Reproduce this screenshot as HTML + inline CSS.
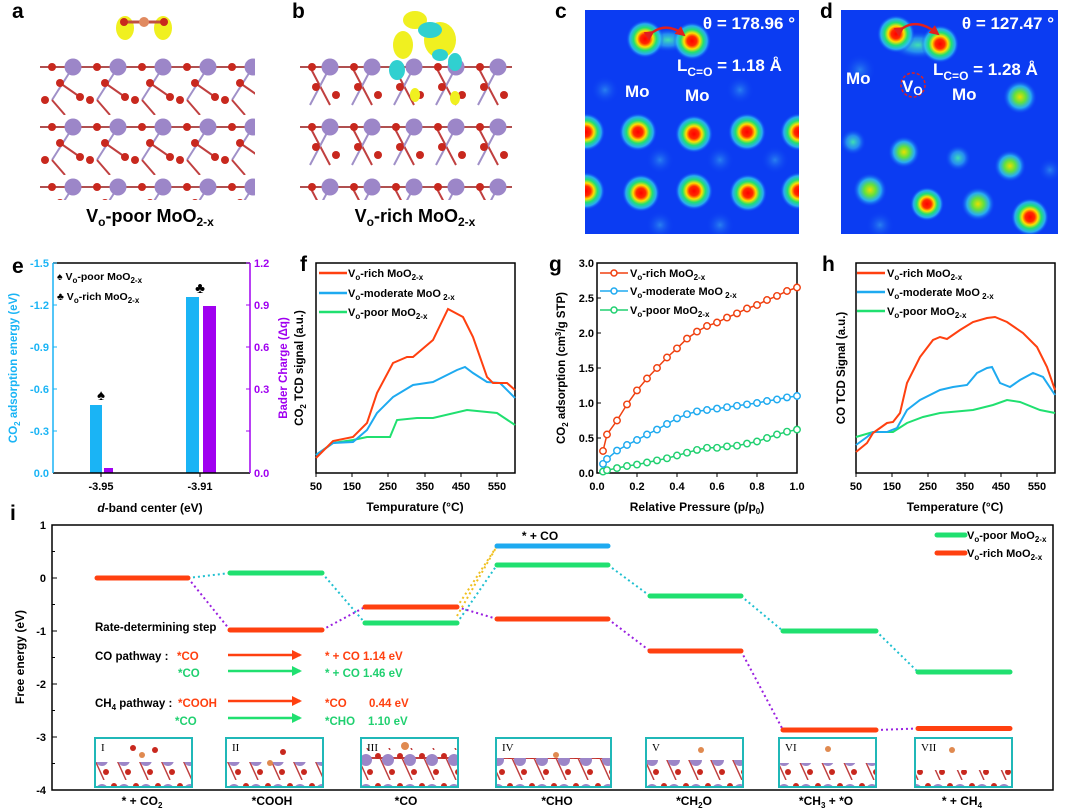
<!DOCTYPE html>
<html><head><meta charset="utf-8"><style>
html,body{margin:0;padding:0;background:#fff}
svg{display:block;font-family:"Liberation Sans",Arial,sans-serif;font-weight:bold}
</style></head><body>
<svg width="1080" height="810" viewBox="0 0 1080 810" xmlns="http://www.w3.org/2000/svg">
<defs>
<radialGradient id="hot"><stop offset="0" stop-color="#ff0000"/><stop offset="0.25" stop-color="#ff2a00"/><stop offset="0.42" stop-color="#ffe000"/><stop offset="0.6" stop-color="#20e070"/><stop offset="0.8" stop-color="#30c8f0" stop-opacity="0.8"/><stop offset="1" stop-color="#0b3cf2" stop-opacity="0"/></radialGradient>
<radialGradient id="warm"><stop offset="0" stop-color="#e8e000"/><stop offset="0.35" stop-color="#60e040"/><stop offset="0.65" stop-color="#30c8f0" stop-opacity="0.8"/><stop offset="1" stop-color="#0b3cf2" stop-opacity="0"/></radialGradient>
<radialGradient id="cool"><stop offset="0" stop-color="#40e0b0"/><stop offset="0.5" stop-color="#30b0f0" stop-opacity="0.7"/><stop offset="1" stop-color="#0b3cf2" stop-opacity="0"/></radialGradient>
<radialGradient id="faint"><stop offset="0" stop-color="#3090f0" stop-opacity="0.8"/><stop offset="1" stop-color="#0b3cf2" stop-opacity="0"/></radialGradient>
<pattern id="lat" x="40" y="55" width="45" height="60" patternUnits="userSpaceOnUse">
<line x1="0" y1="12" x2="45" y2="12" stroke="#b05050" stroke-width="2"/>
<line x1="33" y1="12" x2="12" y2="45" stroke="#a090c8" stroke-width="2"/>
<line x1="12" y1="45" x2="25" y2="60" stroke="#c04040" stroke-width="2"/>
<line x1="20" y1="28" x2="40" y2="42" stroke="#c04040" stroke-width="2"/>
<circle cx="33" cy="12" r="8.5" fill="#9c86c8"/>
<circle cx="12" cy="12" r="4" fill="#c8281e"/>
<circle cx="20" cy="28" r="4" fill="#c8281e"/>
<circle cx="40" cy="42" r="4" fill="#c8281e"/>
<circle cx="5" cy="45" r="4" fill="#c8281e"/>
</pattern>
<pattern id="lat2" x="300" y="55" width="42" height="60" patternUnits="userSpaceOnUse">
<line x1="0" y1="12" x2="42" y2="12" stroke="#b05050" stroke-width="2"/>
<line x1="10" y1="12" x2="30" y2="50" stroke="#c04040" stroke-width="2"/>
<line x1="30" y1="12" x2="10" y2="50" stroke="#a090c8" stroke-width="2"/>
<circle cx="30" cy="12" r="8.5" fill="#9c86c8"/>
<circle cx="12" cy="12" r="4" fill="#c8281e"/>
<circle cx="16" cy="32" r="4" fill="#c8281e"/>
<circle cx="36" cy="40" r="4" fill="#c8281e"/>
</pattern>
<pattern id="ins" x="0" y="0" width="22" height="30" patternUnits="userSpaceOnUse">
<line x1="0" y1="8" x2="22" y2="8" stroke="#c04040" stroke-width="2"/>
<line x1="6" y1="8" x2="16" y2="30" stroke="#c04040" stroke-width="1.5"/>
<circle cx="14" cy="10" r="6" fill="#9c86c8"/>
<circle cx="4" cy="6" r="3" fill="#c8281e"/>
<circle cx="18" cy="22" r="3" fill="#c8281e"/>
</pattern>
<marker id="mr" viewBox="0 0 10 10" refX="5" refY="5" markerWidth="6" markerHeight="6"><circle cx="5" cy="5" r="3.6" fill="#fff" stroke="#f04010" stroke-width="1.6"/></marker>
<marker id="mb" viewBox="0 0 10 10" refX="5" refY="5" markerWidth="6" markerHeight="6"><circle cx="5" cy="5" r="3.6" fill="#fff" stroke="#1eaaf0" stroke-width="1.6"/></marker>
<marker id="mg" viewBox="0 0 10 10" refX="5" refY="5" markerWidth="6" markerHeight="6"><circle cx="5" cy="5" r="3.6" fill="#fff" stroke="#20d070" stroke-width="1.6"/></marker>
<marker id="ar" viewBox="0 0 10 10" refX="8" refY="5" markerWidth="4" markerHeight="4" orient="auto"><path d="M0,0L10,5L0,10z" fill="#ff4010"/></marker>
<marker id="ag" viewBox="0 0 10 10" refX="8" refY="5" markerWidth="4" markerHeight="4" orient="auto"><path d="M0,0L10,5L0,10z" fill="#20e070"/></marker>
<marker id="ah" viewBox="0 0 10 10" refX="8" refY="5" markerWidth="4" markerHeight="4" orient="auto"><path d="M0,0L10,5L0,10z" fill="#e02020"/></marker>
</defs>

<g font-size="21" fill="#000">
<text x="12" y="18">a</text><text x="292" y="18">b</text><text x="555" y="18">c</text><text x="820" y="18">d</text>
<text x="12" y="273">e</text><text x="300" y="271">f</text><text x="549" y="271">g</text><text x="822" y="271">h</text>
<text x="10" y="520">i</text>
</g>

<!-- a -->
<rect x="40" y="55" width="215" height="145" fill="url(#lat)"/>
<ellipse cx="125" cy="28" rx="9" ry="12" fill="#f0f020"/><ellipse cx="163" cy="28" rx="9" ry="12" fill="#f0f020"/>
<line x1="124" y1="22" x2="164" y2="22" stroke="#c05040" stroke-width="3"/>
<circle cx="144" cy="22" r="5" fill="#e08a60"/><circle cx="124" cy="22" r="4" fill="#c8281e"/><circle cx="164" cy="22" r="4" fill="#c8281e"/>
<text x="150" y="222" font-size="18" text-anchor="middle">V<tspan font-size="12" dy="4">o</tspan><tspan dy="-4">-poor MoO</tspan><tspan font-size="12" dy="4">2-x</tspan></text>
<!-- b -->
<rect x="300" y="55" width="212" height="145" fill="url(#lat2)"/>
<ellipse cx="415" cy="20" rx="12" ry="9" fill="#f0f020"/><ellipse cx="403" cy="45" rx="10" ry="14" fill="#f0f020"/><ellipse cx="440" cy="40" rx="16" ry="18" fill="#f0f020"/>
<ellipse cx="430" cy="30" rx="12" ry="8" fill="#30d0d0"/><ellipse cx="397" cy="70" rx="8" ry="10" fill="#30d0d0"/><ellipse cx="455" cy="62" rx="7" ry="9" fill="#30d0d0"/><ellipse cx="440" cy="55" rx="8" ry="6" fill="#30d0d0"/>
<ellipse cx="415" cy="95" rx="5" ry="7" fill="#f0f020"/><ellipse cx="455" cy="98" rx="5" ry="7" fill="#f0f020"/>
<text x="415" y="222" font-size="18" text-anchor="middle">V<tspan font-size="12" dy="4">o</tspan><tspan dy="-4">-rich MoO</tspan><tspan font-size="12" dy="4">2-x</tspan></text>

<!-- c -->
<svg x="585" y="10" width="214" height="224" viewBox="585 10 214 224" overflow="hidden">
<rect x="585" y="10" width="214" height="224" fill="#0b3cf2"/>
<g fill="url(#faint)"><circle cx="605" cy="90" r="14"/><circle cx="660" cy="160" r="14"/><circle cx="720" cy="160" r="14"/><circle cx="775" cy="160" r="14"/><circle cx="740" cy="90" r="14"/><circle cx="660" cy="225" r="14"/><circle cx="720" cy="225" r="14"/></g>
<ellipse cx="668" cy="40" rx="24" ry="12" fill="url(#cool)"/>
<g fill="url(#hot)"><circle cx="645" cy="39" r="19"/><circle cx="692" cy="41" r="19"/>
<circle cx="586" cy="132" r="19"/><circle cx="638" cy="132" r="19"/><circle cx="694" cy="134" r="19"/><circle cx="747" cy="132" r="19"/><circle cx="799" cy="132" r="19"/>
<circle cx="586" cy="191" r="19"/><circle cx="641" cy="193" r="19"/><circle cx="694" cy="191" r="19"/><circle cx="748" cy="193" r="19"/><circle cx="799" cy="191" r="19"/></g>
<path d="M653,32 Q668,22 684,35" fill="none" stroke="#e02020" stroke-width="2.5" marker-start="url(#ah)" marker-end="url(#ah)"/>
<g fill="#fff" font-size="17"><text x="795" y="29" text-anchor="end">θ = 178.96 °</text>
<text x="677" y="71">L<tspan font-size="12" dy="5">C=O</tspan><tspan dy="-5"> = 1.18 Å</tspan></text>
<text x="625" y="97">Mo</text><text x="685" y="101">Mo</text></g>
</svg>
<!-- d -->
<svg x="841" y="10" width="217" height="224" viewBox="841 10 217 224" overflow="hidden">
<rect x="841" y="10" width="217" height="224" fill="#0b3cf2"/>
<g fill="url(#faint)"><circle cx="860" cy="70" r="16"/><circle cx="1050" cy="170" r="12"/><circle cx="880" cy="225" r="14"/></g>
<ellipse cx="918" cy="45" rx="28" ry="14" fill="url(#cool)"/>
<g fill="url(#hot)"><circle cx="896" cy="34" r="19"/><circle cx="940" cy="44" r="19"/><circle cx="927" cy="204" r="17"/><circle cx="1030" cy="217" r="19"/></g>
<g fill="url(#warm)"><circle cx="1020" cy="97" r="17"/><circle cx="904" cy="152" r="16"/><circle cx="1010" cy="166" r="16"/><circle cx="870" cy="190" r="17"/><circle cx="978" cy="204" r="17"/></g>
<g fill="url(#cool)"><circle cx="853" cy="142" r="13"/><circle cx="958" cy="158" r="13"/></g>
<path d="M903,28 Q918,18 938,34" fill="none" stroke="#e02020" stroke-width="2.5" marker-start="url(#ah)" marker-end="url(#ah)"/>
<circle cx="913" cy="85" r="12" fill="none" stroke="#e02020" stroke-width="1.5" stroke-dasharray="3,2"/>
<g fill="#fff" font-size="17"><text x="1054" y="29" text-anchor="end">θ = 127.47 °</text>
<text x="933" y="75">L<tspan font-size="12" dy="5">C=O</tspan><tspan dy="-5"> = 1.28 Å</tspan></text>
<text x="846" y="84">Mo</text><text x="902" y="92">V<tspan font-size="12" dy="3">O</tspan></text><text x="952" y="100">Mo</text></g>
</svg>

<!-- e -->
<g>
<rect x="90" y="405" width="12" height="68" fill="#1ab4f5"/>
<rect x="104" y="468" width="9" height="5" fill="#a000f0"/>
<rect x="186" y="297" width="13" height="176" fill="#1ab4f5"/>
<rect x="203" y="306" width="13" height="167" fill="#a000f0"/>
<line x1="53" y1="473" x2="250" y2="473" stroke="#000" stroke-width="1.5"/>
<line x1="53" y1="263" x2="250" y2="263" stroke="#000" stroke-width="1.5"/>
<line x1="53" y1="263" x2="53" y2="473" stroke="#1ab4f5" stroke-width="1.5"/>
<line x1="250" y1="263" x2="250" y2="473" stroke="#a000f0" stroke-width="1.5"/>
<g stroke="#1ab4f5"><line x1="53" y1="263" x2="57" y2="263"/><line x1="53" y1="305" x2="57" y2="305"/><line x1="53" y1="347" x2="57" y2="347"/><line x1="53" y1="389" x2="57" y2="389"/><line x1="53" y1="431" x2="57" y2="431"/></g>
<g stroke="#a000f0"><line x1="246" y1="263" x2="250" y2="263"/><line x1="246" y1="305" x2="250" y2="305"/><line x1="246" y1="347" x2="250" y2="347"/><line x1="246" y1="389" x2="250" y2="389"/><line x1="246" y1="431" x2="250" y2="431"/></g>
<g font-size="11" fill="#1ab4f5" text-anchor="end"><text x="49" y="267">-1.5</text><text x="49" y="309">-1.2</text><text x="49" y="351">-0.9</text><text x="49" y="393">-0.6</text><text x="49" y="435">-0.3</text><text x="49" y="477">0.0</text></g>
<g font-size="11" fill="#a000f0"><text x="254" y="267">1.2</text><text x="254" y="309">0.9</text><text x="254" y="351">0.6</text><text x="254" y="393">0.3</text><text x="254" y="477">0.0</text></g>
<g font-size="11" text-anchor="middle"><text x="101" y="490">-3.95</text><text x="200" y="490">-3.91</text></g>
<line x1="101" y1="473" x2="101" y2="477" stroke="#000"/><line x1="200" y1="473" x2="200" y2="477" stroke="#000"/>
<text x="150" y="512" font-size="12" text-anchor="middle"><tspan font-style="italic">d</tspan>-band center (eV)</text>
<text transform="translate(17,368) rotate(-90)" font-size="11.5" fill="#1ab4f5" text-anchor="middle">CO<tspan font-size="8" dy="3">2</tspan><tspan dy="-3"> adsorption energy (eV)</tspan></text>
<text transform="translate(287,368) rotate(-90)" font-size="11.5" fill="#a000f0" text-anchor="middle">Bader Charge (Δq)</text>
<text x="57" y="280" font-size="10.5">♠ V<tspan font-size="8" dy="3">o</tspan><tspan dy="-3">-poor MoO</tspan><tspan font-size="8" dy="3">2-x</tspan></text>
<text x="57" y="300" font-size="10.5">♣ V<tspan font-size="8" dy="3">o</tspan><tspan dy="-3">-rich MoO</tspan><tspan font-size="8" dy="3">2-x</tspan></text>
<text x="101" y="400" font-size="15" text-anchor="middle">♠</text>
<text x="200" y="293" font-size="15" text-anchor="middle">♣</text>
</g>

<!-- f -->
<g>
<rect x="316" y="263" width="199" height="210" fill="none" stroke="#000" stroke-width="1.5"/>
<polyline fill="none" stroke="#20e070" stroke-width="2" points="316,455 333,443 353,440 367,437 390,437 397,420 417,418 433,418 467,410 497,413 515,425"/>
<polyline fill="none" stroke="#1eaaf0" stroke-width="2" points="316,455 333,443 353,442 367,430 377,413 393,397 413,385 433,382 457,370 465,367 473,373 487,382 500,383 515,398"/>
<polyline fill="none" stroke="#ff4010" stroke-width="2" points="316,458 333,441 353,437 367,423 377,393 393,363 407,357 413,357 433,340 448,309 463,317 473,337 487,377 493,383 507,383 515,390"/>
<g stroke="#000"><line x1="316" y1="473" x2="316" y2="477"/><line x1="352" y1="473" x2="352" y2="477"/><line x1="388" y1="473" x2="388" y2="477"/><line x1="425" y1="473" x2="425" y2="477"/><line x1="461" y1="473" x2="461" y2="477"/><line x1="497" y1="473" x2="497" y2="477"/></g>
<g font-size="11" text-anchor="middle"><text x="316" y="490">50</text><text x="352" y="490">150</text><text x="388" y="490">250</text><text x="425" y="490">350</text><text x="461" y="490">450</text><text x="497" y="490">550</text></g>
<text x="415" y="511" font-size="12" text-anchor="middle">Tempurature (°C)</text>
<text transform="translate(303,368) rotate(-90)" font-size="11.5" text-anchor="middle">CO<tspan font-size="8" dy="3">2</tspan><tspan dy="-3"> TCD signal (a.u.)</tspan></text>
<line x1="319" y1="273" x2="347" y2="273" stroke="#ff4010" stroke-width="2.5"/><line x1="319" y1="293" x2="347" y2="293" stroke="#1eaaf0" stroke-width="2.5"/><line x1="319" y1="312" x2="347" y2="312" stroke="#20e070" stroke-width="2.5"/>
<g font-size="11"><text x="348" y="277">V<tspan font-size="8" dy="3">o</tspan><tspan dy="-3">-rich MoO</tspan><tspan font-size="8" dy="3">2-x</tspan></text>
<text x="348" y="297">V<tspan font-size="8" dy="3">o</tspan><tspan dy="-3">-moderate MoO</tspan><tspan font-size="8" dy="3"> 2-x</tspan></text>
<text x="348" y="316">V<tspan font-size="8" dy="3">o</tspan><tspan dy="-3">-poor MoO</tspan><tspan font-size="8" dy="3">2-x</tspan></text></g>
</g>

<!-- g -->
<g>
<rect x="597" y="263" width="200" height="210" fill="none" stroke="#000" stroke-width="1.5"/>
<polyline fill="none" stroke="#20d070" stroke-width="1.5" marker-start="url(#mg)" marker-mid="url(#mg)" marker-end="url(#mg)" points="603,471.6 607,470.2 617,468.1 627,466 637,464.6 647,462.5 657,460.4 667,458.3 677,455.5 687,452.7 697,449.9 707,447.8 717,447.8 727,446.4 737,445.7 747,443.6 757,441.5 767,438 777,434.5 787,431.7 797,429.6"/>
<polyline fill="none" stroke="#1eaaf0" stroke-width="1.5" marker-start="url(#mb)" marker-mid="url(#mb)" marker-end="url(#mb)" points="603,463.9 607,459 617,450.6 627,445 637,440 647,434.5 657,429.6 667,424 677,418.4 687,414.2 697,411.4 707,410 717,408.6 727,407.2 737,405.8 747,404.4 757,403 767,401 777,399.5 787,397.4 797,396"/>
<polyline fill="none" stroke="#f04010" stroke-width="1.5" marker-start="url(#mr)" marker-mid="url(#mr)" marker-end="url(#mr)" points="603,451 607,434.5 617,420.5 627,404.4 637,390.4 647,378.5 657,368 667,357.5 677,348.4 687,338.6 697,331.6 707,326 717,322.5 727,317.6 737,313.4 747,308.5 757,305 767,300 777,295.9 787,291 797,287.5"/>
<g stroke="#000"><line x1="597" y1="438" x2="601" y2="438"/><line x1="597" y1="403" x2="601" y2="403"/><line x1="597" y1="368" x2="601" y2="368"/><line x1="597" y1="333" x2="601" y2="333"/><line x1="597" y1="298" x2="601" y2="298"/>
<line x1="637" y1="473" x2="637" y2="477"/><line x1="677" y1="473" x2="677" y2="477"/><line x1="717" y1="473" x2="717" y2="477"/><line x1="757" y1="473" x2="757" y2="477"/></g>
<g font-size="11" text-anchor="end"><text x="594" y="477">0.0</text><text x="594" y="442">0.5</text><text x="594" y="407">1.0</text><text x="594" y="372">1.5</text><text x="594" y="337">2.0</text><text x="594" y="302">2.5</text><text x="594" y="267">3.0</text></g>
<g font-size="11" text-anchor="middle"><text x="597" y="490">0.0</text><text x="637" y="490">0.2</text><text x="677" y="490">0.4</text><text x="717" y="490">0.6</text><text x="757" y="490">0.8</text><text x="797" y="490">1.0</text></g>
<text x="697" y="511" font-size="12" text-anchor="middle">Relative Pressure  (p/p<tspan font-size="8" dy="3">0</tspan><tspan dy="-3">)</tspan></text>
<text transform="translate(565,368) rotate(-90)" font-size="11.5" text-anchor="middle">CO<tspan font-size="8" dy="3">2</tspan><tspan dy="-3"> adsorption (cm</tspan><tspan font-size="8" dy="-4">3</tspan><tspan dy="4">/g STP)</tspan></text>
<g stroke-width="1.5"><line x1="600" y1="273" x2="628" y2="273" stroke="#f04010"/><circle cx="614" cy="273" r="3" fill="#fff" stroke="#f04010"/>
<line x1="600" y1="291" x2="628" y2="291" stroke="#1eaaf0"/><circle cx="614" cy="291" r="3" fill="#fff" stroke="#1eaaf0"/>
<line x1="600" y1="310" x2="628" y2="310" stroke="#20d070"/><circle cx="614" cy="310" r="3" fill="#fff" stroke="#20d070"/></g>
<g font-size="11"><text x="630" y="277">V<tspan font-size="8" dy="3">o</tspan><tspan dy="-3">-rich MoO</tspan><tspan font-size="8" dy="3">2-x</tspan></text>
<text x="630" y="295">V<tspan font-size="8" dy="3">o</tspan><tspan dy="-3">-moderate MoO</tspan><tspan font-size="8" dy="3"> 2-x</tspan></text>
<text x="630" y="314">V<tspan font-size="8" dy="3">o</tspan><tspan dy="-3">-poor MoO</tspan><tspan font-size="8" dy="3">2-x</tspan></text></g>
</g>

<!-- h -->
<g>
<rect x="856" y="263" width="199" height="210" fill="none" stroke="#000" stroke-width="1.5"/>
<polyline fill="none" stroke="#20e070" stroke-width="2" points="856,437 873,432 893,432 907,423 923,417 940,413 973,410 993,405 1007,400 1020,402 1040,410 1055,413"/>
<polyline fill="none" stroke="#1eaaf0" stroke-width="2" points="856,445 867,437 873,432 887,432 897,428 907,410 920,400 940,390 953,387 967,385 977,373 987,368 992,367 1000,383 1010,387 1020,380 1033,373 1043,377 1055,395"/>
<polyline fill="none" stroke="#ff4010" stroke-width="2" points="856,452 867,443 873,433 887,423 893,422 900,413 907,383 920,357 933,340 940,337 947,339 960,330 973,322 987,318 995,317 1007,322 1023,333 1037,347 1047,367 1055,390"/>
<g stroke="#000"><line x1="856" y1="473" x2="856" y2="477"/><line x1="892" y1="473" x2="892" y2="477"/><line x1="928" y1="473" x2="928" y2="477"/><line x1="965" y1="473" x2="965" y2="477"/><line x1="1001" y1="473" x2="1001" y2="477"/><line x1="1037" y1="473" x2="1037" y2="477"/></g>
<g font-size="11" text-anchor="middle"><text x="856" y="490">50</text><text x="892" y="490">150</text><text x="928" y="490">250</text><text x="965" y="490">350</text><text x="1001" y="490">450</text><text x="1037" y="490">550</text></g>
<text x="955" y="511" font-size="12" text-anchor="middle">Temperature (°C)</text>
<text transform="translate(845,368) rotate(-90)" font-size="11.5" text-anchor="middle">CO TCD Signal (a.u.)</text>
<line x1="857" y1="273" x2="885" y2="273" stroke="#ff4010" stroke-width="2.5"/><line x1="857" y1="292" x2="885" y2="292" stroke="#1eaaf0" stroke-width="2.5"/><line x1="857" y1="311" x2="885" y2="311" stroke="#20e070" stroke-width="2.5"/>
<g font-size="11"><text x="887" y="277">V<tspan font-size="8" dy="3">o</tspan><tspan dy="-3">-rich MoO</tspan><tspan font-size="8" dy="3">2-x</tspan></text>
<text x="887" y="296">V<tspan font-size="8" dy="3">o</tspan><tspan dy="-3">-moderate MoO</tspan><tspan font-size="8" dy="3"> 2-x</tspan></text>
<text x="887" y="315">V<tspan font-size="8" dy="3">o</tspan><tspan dy="-3">-poor MoO</tspan><tspan font-size="8" dy="3">2-x</tspan></text></g>
</g>

<!-- i -->
<g>
<rect x="52" y="525" width="1001" height="265" fill="none" stroke="#000" stroke-width="1.5"/>
<g stroke="#000"><line x1="52" y1="525" x2="57" y2="525"/><line x1="52" y1="578" x2="57" y2="578"/><line x1="52" y1="631" x2="57" y2="631"/><line x1="52" y1="684" x2="57" y2="684"/><line x1="52" y1="737" x2="57" y2="737"/>
<line x1="52" y1="551.5" x2="55" y2="551.5"/><line x1="52" y1="604.5" x2="55" y2="604.5"/><line x1="52" y1="657.5" x2="55" y2="657.5"/><line x1="52" y1="710.5" x2="55" y2="710.5"/><line x1="52" y1="763.5" x2="55" y2="763.5"/></g>
<g font-size="11" text-anchor="end"><text x="46" y="529">1</text><text x="46" y="582">0</text><text x="46" y="635">-1</text><text x="46" y="688">-2</text><text x="46" y="741">-3</text><text x="46" y="794">-4</text></g>
<text transform="translate(24,657) rotate(-90)" font-size="12" text-anchor="middle">Free energy (eV)</text>
<g fill="none" stroke-width="2" stroke-dasharray="2,3">
<g stroke="#20c0d0"><line x1="188" y1="578" x2="230" y2="573"/><line x1="322" y1="573" x2="365" y2="623"/><line x1="457" y1="623" x2="497" y2="565"/><line x1="608" y1="565" x2="650" y2="596"/><line x1="741" y1="596" x2="783" y2="631"/><line x1="876" y1="631" x2="918" y2="672"/></g>
<g stroke="#f0c020"><line x1="457" y1="607" x2="497" y2="546"/><line x1="457" y1="616" x2="497" y2="546"/></g>
<g stroke="#9a20e0"><line x1="188" y1="578" x2="230" y2="630"/><line x1="322" y1="630" x2="365" y2="607"/><line x1="457" y1="607" x2="497" y2="619"/><line x1="608" y1="619" x2="650" y2="651"/><line x1="741" y1="651" x2="783" y2="730"/><line x1="876" y1="730" x2="918" y2="728.5"/></g>
</g>
<g stroke-width="5" stroke-linecap="round">
<line x1="97" y1="578" x2="188" y2="578" stroke="#ff4010"/>
<line x1="230" y1="573" x2="322" y2="573" stroke="#20e070"/><line x1="230" y1="630" x2="322" y2="630" stroke="#ff4010"/>
<line x1="365" y1="607" x2="457" y2="607" stroke="#ff4010"/><line x1="365" y1="623" x2="457" y2="623" stroke="#20e070"/>
<line x1="497" y1="546" x2="608" y2="546" stroke="#1eaaf0"/><line x1="497" y1="565" x2="608" y2="565" stroke="#20e070"/><line x1="497" y1="619" x2="608" y2="619" stroke="#ff4010"/>
<line x1="650" y1="596" x2="741" y2="596" stroke="#20e070"/><line x1="650" y1="651" x2="741" y2="651" stroke="#ff4010"/>
<line x1="783" y1="631" x2="876" y2="631" stroke="#20e070"/><line x1="783" y1="730" x2="876" y2="730" stroke="#ff4010"/>
<line x1="918" y1="672" x2="1010" y2="672" stroke="#20e070"/><line x1="918" y1="728.5" x2="1010" y2="728.5" stroke="#ff4010"/>
<line x1="937" y1="535" x2="965" y2="535" stroke="#20e070"/><line x1="937" y1="553" x2="965" y2="553" stroke="#ff4010"/>
</g>
<g font-size="11"><text x="967" y="539">V<tspan font-size="8" dy="3">o</tspan><tspan dy="-3">-poor MoO</tspan><tspan font-size="8" dy="3">2-x</tspan></text>
<text x="967" y="557">V<tspan font-size="8" dy="3">o</tspan><tspan dy="-3">-rich MoO</tspan><tspan font-size="8" dy="3">2-x</tspan></text></g>
<text x="540" y="540" font-size="12" text-anchor="middle">* + CO</text>
<g font-size="11.5">
<text x="95" y="631">Rate-determining step</text>
<text x="95" y="660">CO pathway :</text><text x="177" y="660" fill="#ff4010">*CO</text><text x="325" y="660" fill="#ff4010">* + CO   1.14 eV</text>
<text x="178" y="677" fill="#20d070">*CO</text><text x="325" y="677" fill="#20d070">* + CO   1.46 eV</text>
<text x="95" y="707">CH<tspan font-size="8" dy="3">4</tspan><tspan dy="-3"> pathway :</tspan></text><text x="178" y="707" fill="#ff4010">*COOH</text><text x="325" y="707" fill="#ff4010">*CO</text><text x="369" y="707" fill="#ff4010">0.44 eV</text>
<text x="175" y="725" fill="#20d070">*CO</text><text x="325" y="725" fill="#20d070">*CHO</text><text x="368" y="725" fill="#20d070">1.10 eV</text>
</g>
<g stroke-width="2.5"><line x1="228" y1="655" x2="300" y2="655" stroke="#ff4010" marker-end="url(#ar)"/><line x1="228" y1="671" x2="300" y2="671" stroke="#20e070" marker-end="url(#ag)"/>
<line x1="228" y1="701" x2="300" y2="701" stroke="#ff4010" marker-end="url(#ar)"/><line x1="228" y1="718" x2="300" y2="718" stroke="#20e070" marker-end="url(#ag)"/></g>
<g stroke="#20b8b8" stroke-width="2">
<rect x="95" y="738" width="97" height="49" fill="#fff"/><rect x="226" y="738" width="97" height="49" fill="#fff"/><rect x="361" y="738" width="97" height="49" fill="#fff"/><rect x="496" y="738" width="115" height="49" fill="#fff"/><rect x="646" y="738" width="97" height="49" fill="#fff"/><rect x="779" y="738" width="97" height="49" fill="#fff"/><rect x="915" y="738" width="97" height="49" fill="#fff"/>
</g>
<g fill="url(#ins)"><rect x="96" y="762" width="95" height="24"/><rect x="227" y="762" width="95" height="24"/><rect x="362" y="748" width="95" height="38"/><rect x="497" y="758" width="113" height="28"/><rect x="647" y="760" width="95" height="26"/><rect x="780" y="763" width="95" height="23"/><rect x="916" y="770" width="95" height="16"/></g>
<g fill="#c8281e"><circle cx="133" cy="748" r="3"/><circle cx="155" cy="750" r="3"/><circle cx="283" cy="752" r="3"/></g>
<g fill="#e08a50"><circle cx="142" cy="755" r="3"/><circle cx="270" cy="763" r="3"/><circle cx="405" cy="746" r="4"/><circle cx="556" cy="755" r="3"/><circle cx="701" cy="750" r="3"/><circle cx="828" cy="749" r="3"/><circle cx="952" cy="750" r="3"/></g>
<g font-family="Liberation Serif,serif" font-size="11" font-weight="normal"><text x="101" y="751">I</text><text x="232" y="751">II</text><text x="367" y="751">III</text><text x="502" y="751">IV</text><text x="652" y="751">V</text><text x="785" y="751">VI</text><text x="921" y="751">VII</text></g>
<g font-size="12" text-anchor="middle">
<text x="142" y="805">* + CO<tspan font-size="8" dy="3">2</tspan></text>
<text x="272" y="805">*COOH</text><text x="406" y="805">*CO</text><text x="557" y="805">*CHO</text>
<text x="694" y="805">*CH<tspan font-size="8" dy="3">2</tspan><tspan dy="-3">O</tspan></text>
<text x="826" y="805">*CH<tspan font-size="8" dy="3">3</tspan><tspan dy="-3"> + *O</tspan></text>
<text x="962" y="805">* + CH<tspan font-size="8" dy="3">4</tspan></text>
</g>
</g>
</svg>
</body></html>
